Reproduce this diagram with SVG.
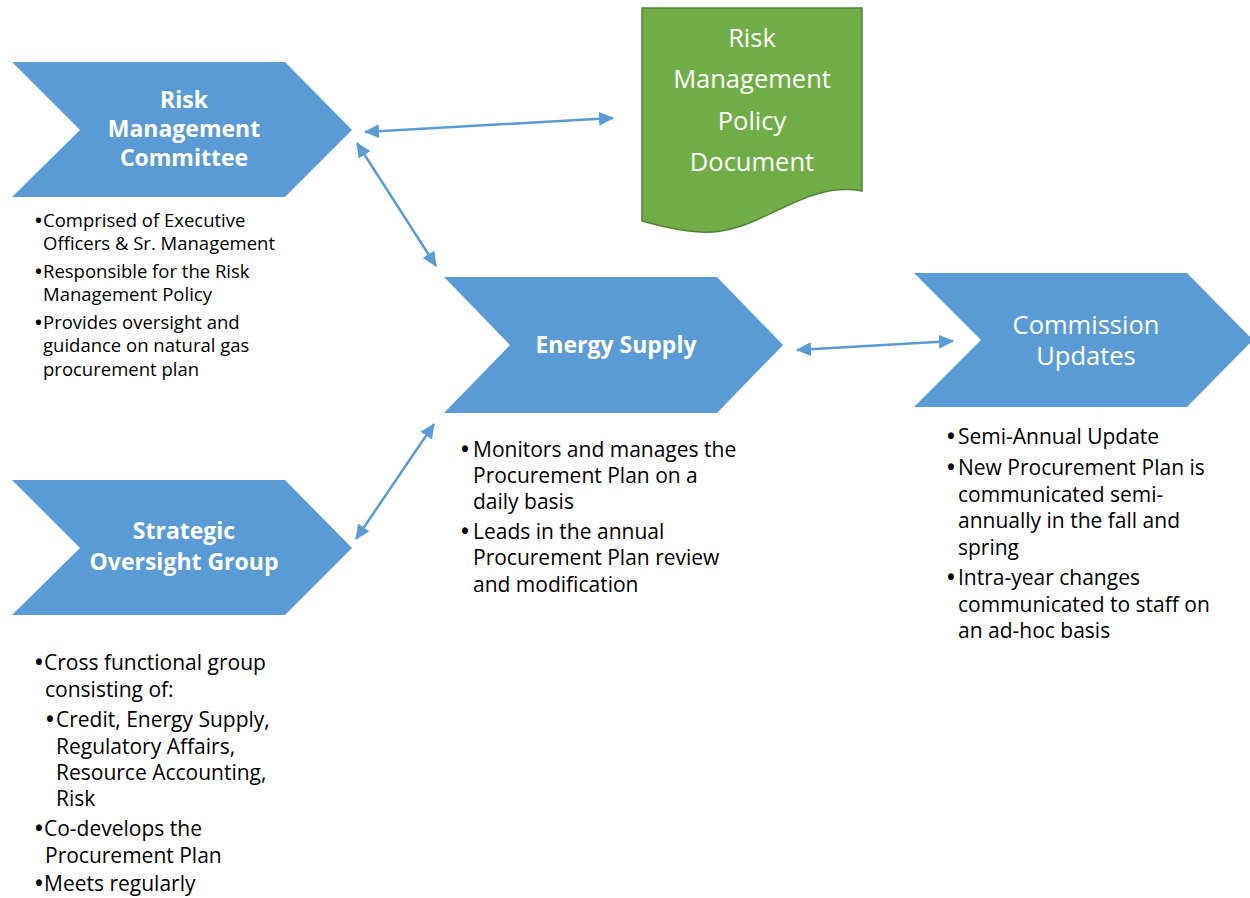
<svg xmlns="http://www.w3.org/2000/svg" width="1250" height="898" viewBox="0 0 1250 898">
<defs>
<style>
.chev{fill:#5b9bd5;}
.doc{fill:#70ad47;stroke:#548235;stroke-width:1.5;}
.tb{font-family:"Open Sans","Liberation Sans",sans-serif;font-weight:bold;font-size:23px;fill:#fff;text-anchor:middle;}
.tn{font-family:"Open Sans","Liberation Sans",sans-serif;font-size:25.5px;fill:#fff;text-anchor:middle;}
.b17{font-family:"Open Sans","Liberation Sans",sans-serif;font-size:18.5px;fill:#000;}
.b20{font-family:"Open Sans","Liberation Sans",sans-serif;font-size:21px;fill:#000;}
.bul{font-weight:bold;}
.conn{stroke:#5b9bd5;stroke-width:2.5;fill:none;marker-start:url(#ah);marker-end:url(#ah);}
</style>
<marker id="ah" viewBox="0 0 15 14" refX="14" refY="7" markerWidth="15" markerHeight="14" orient="auto-start-reverse" markerUnits="userSpaceOnUse">
<path d="M0,0 L15,7 L0,14 Z" fill="#5b9bd5"/>
</marker>
</defs>
<rect width="1250" height="898" fill="#fff"/>

<g id="risk-management-committee">
<polygon class="chev" points="12,62 285,62 352,130 285,197 12,197 80,130"/>
<text class="tb" x="184" y="108">Risk</text>
<text class="tb" x="184" y="137">Management</text>
<text class="tb" x="184" y="166">Committee</text>
</g>
<g id="rmc-notes" class="b17">
<text y="227"><tspan class="bul" x="35">•</tspan><tspan x="43">Comprised of Executive</tspan></text>
<text x="43" y="250">Officers &amp; Sr. Management</text>
<text y="278"><tspan class="bul" x="35">•</tspan><tspan x="43">Responsible for the Risk</tspan></text>
<text x="43" y="301">Management Policy</text>
<text y="329"><tspan class="bul" x="35">•</tspan><tspan x="43">Provides oversight and</tspan></text>
<text x="43" y="352">guidance on natural gas</text>
<text x="43" y="376">procurement plan</text>
</g>

<g id="policy-document">
<path class="doc" d="M642,8 H862 V191 C800,180 760,236 700,232 C670,230 655,224 642,221 Z"/>
<text class="tn" x="752" y="47">Risk</text>
<text class="tn" x="752" y="88">Management</text>
<text class="tn" x="752" y="130">Policy</text>
<text class="tn" x="752" y="171">Document</text>
</g>

<g id="energy-supply">
<polygon class="chev" points="444,277 717,277 783,345 717,413 444,413 510,345"/>
<text class="tb" x="616" y="353">Energy Supply</text>
</g>
<g id="es-notes" class="b20">
<text y="457"><tspan class="bul" x="461">•</tspan><tspan x="473">Monitors and manages the</tspan></text>
<text x="473" y="483">Procurement Plan on a</text>
<text x="473" y="509">daily basis</text>
<text y="539"><tspan class="bul" x="461">•</tspan><tspan x="473">Leads in the annual</tspan></text>
<text x="473" y="565">Procurement Plan review</text>
<text x="473" y="592">and modification</text>
</g>

<g id="commission-updates">
<polygon class="chev" points="914,273 1187,273 1253,340 1187,407 914,407 981,340"/>
<text class="tn" x="1086" y="334">Commission</text>
<text class="tn" x="1086" y="365">Updates</text>
</g>
<g id="cu-notes" class="b20">
<text y="444"><tspan class="bul" x="947">•</tspan><tspan x="958">Semi-Annual Update</tspan></text>
<text y="475"><tspan class="bul" x="947">•</tspan><tspan x="958">New Procurement Plan is</tspan></text>
<text x="958" y="502">communicated semi-</text>
<text x="958" y="528">annually in the fall and</text>
<text x="958" y="555">spring</text>
<text y="585"><tspan class="bul" x="947">•</tspan><tspan x="958">Intra-year changes</tspan></text>
<text x="958" y="612">communicated to staff on</text>
<text x="958" y="638">an ad-hoc basis</text>
</g>

<g id="strategic-oversight-group">
<polygon class="chev" points="12,480 285,480 352,548 285,615 12,615 80,548"/>
<text class="tb" x="184" y="539">Strategic</text>
<text class="tb" x="184" y="570">Oversight Group</text>
</g>
<g id="sog-notes" class="b20">
<text y="670"><tspan class="bul" x="35">•</tspan><tspan x="44">Cross functional group</tspan></text>
<text x="45" y="697">consisting of:</text>
<text y="727"><tspan class="bul" x="46">•</tspan><tspan x="56">Credit, Energy Supply,</tspan></text>
<text x="56" y="754">Regulatory Affairs,</text>
<text x="56" y="780">Resource Accounting,</text>
<text x="56" y="806">Risk</text>
<text y="836"><tspan class="bul" x="35">•</tspan><tspan x="44">Co-develops the</tspan></text>
<text x="45" y="863">Procurement Plan</text>
<text y="891"><tspan class="bul" x="35">•</tspan><tspan x="44">Meets regularly</tspan></text>
</g>

<g id="connectors">
<line class="conn" x1="365" y1="132" x2="613" y2="118"/>
<line class="conn" x1="357" y1="143" x2="436" y2="266"/>
<line class="conn" x1="434" y1="424" x2="356" y2="539"/>
<line class="conn" x1="797" y1="350" x2="953" y2="341"/>
</g>
</svg>
